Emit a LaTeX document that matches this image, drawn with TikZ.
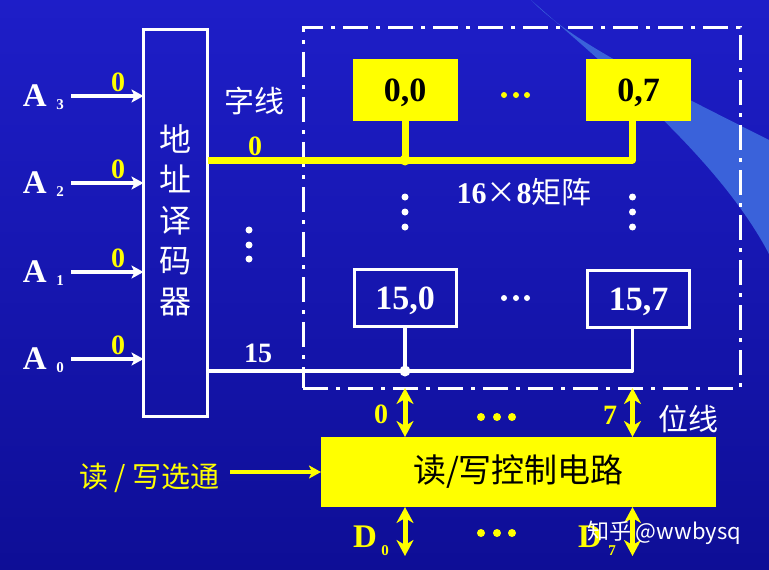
\documentclass[tikz,border=0pt]{standalone}
\usepackage{fontspec}
\setmainfont{Liberation Serif}
\newfontfamily\cjk{Noto Sans CJK SC}
\usetikzlibrary{arrows.meta,calc}
\definecolor{bgtop}{RGB}{30,30,200}
\definecolor{bgbot}{RGB}{14,14,150}
\definecolor{swoosh}{RGB}{58,98,218}
\definecolor{ylw}{RGB}{255,255,0}
\begin{document}
\begin{tikzpicture}[x=1pt,y=-1pt,
  every node/.style={inner sep=0pt,outer sep=0pt},
  bnum/.style={font=\bfseries\fontsize{28}{28}\selectfont},
  ylab/.style={bnum,text=ylw},
  wlab/.style={bnum,text=white},
  cjkw/.style={font=\cjk\fontsize{30}{30}\selectfont,text=white},
  alab/.style={font=\bfseries\fontsize{33}{33}\selectfont,text=white},
  asub/.style={font=\bfseries\fontsize{15}{15}\selectfont,text=white},
  dlab/.style={font=\bfseries\fontsize{33}{33}\selectfont,text=ylw},
  dsub/.style={font=\bfseries\fontsize{15}{15}\selectfont,text=ylw},
  cellY/.style={fill=ylw,minimum width=105pt,minimum height=62pt,text height=23pt,text depth=0pt,
     font=\bfseries\fontsize{34}{34}\selectfont,text=black},
  cellW/.style={draw=white,line width=3pt,minimum width=102pt,minimum height=57pt,text height=23pt,text depth=0pt,
     font=\bfseries\fontsize{34}{34}\selectfont,text=white},
  yline/.style={draw=ylw,line width=7pt},
  wline/.style={draw=white,line width=3.5pt},
  warrow/.style={draw=white,line width=4pt,-{Stealth[length=12pt,width=13pt,inset=3pt]}},
  yarrow/.style={draw=ylw,line width=3.5pt,-{Stealth[length=12pt,width=13pt,inset=3pt]}},
  darrow/.style={draw=ylw,line width=5pt,{Stealth[length=16pt,width=17pt,inset=5pt]}-{Stealth[length=16pt,width=17pt,inset=5pt]}},
  wdot/.style={fill=white},
  ydot/.style={fill=ylw}
]
% background
\shade[top color=bgtop,bottom color=bgbot] (0,0) rectangle (769,570);
\useasboundingbox (0,0) rectangle (769,570);
\fill[swoosh] (531,0) .. controls (570,40) and (640,75) .. (769,140)
   -- (769,254) .. controls (720,160) and (610,70) .. (531,0) -- cycle;

% matrix frame
\node[draw=white,line width=3pt,dash pattern=on 25pt off 8pt on 4pt off 8pt,
      minimum width=437pt,minimum height=361pt] (mat) at (521.5,207.5) {};

% decoder
\node[draw=white,line width=3pt,minimum width=64pt,minimum height=387pt] (dec) at (175.5,223) {};
\node[font=\cjk\fontsize{32}{40.5}\selectfont,text=white,align=center] (dectxt) at (175,220) {地\\址\\译\\码\\器};

% inputs
\foreach \i/\y in {3/96,2/183,1/272,0/359}{
  \node[alab,anchor=base west] (A\i) at (23,{\y+10}) {A};
  \node[asub,anchor=base] (As\i) at (60,{\y+13}) {\i};
  \coordinate (as\i) at (71,\y);
  \draw[warrow] (as\i) -- (dec.west |- as\i);
  \node[ylab,anchor=base] (z\i) at (118,{\y-5}) {0};
}

% cells
\node[cellY] (c00) at (405,90) {0,0};
\node[cellY] (c07) at (638.5,90) {0,7};
\node[cellW] (c150) at (405,298) {15,0};
\node[cellW] (c157) at (638.5,299) {15,7};
\coordinate (k7) at ([xshift=-6pt]c07.south);
\coordinate (k15) at ([xshift=-6pt]c157.south);

% word line 0
\draw[yline,line join=round] (dec.east |- 0,160) -- (k7 |- 0,160) -- (k7);
\draw[yline] (c00.south) -- (c00.south |- 0,160);
\fill[ydot] (c00.south |- 0,160) circle (5.5pt);
% word line 15
\draw[wline,line join=round] (dec.east |- 0,371) -- (k15 |- 0,371) -- (k15);
\draw[wline] (c150.south) -- (c150.south |- 0,371);
\fill[wdot] (c150.south |- 0,371) circle (5.5pt);

% labels near word lines
\node[cjkw] (zx) at (254,101) {字线};
\node[ylab,anchor=base] (w0lab) at (255,155) {0};
\node[wlab,anchor=base] (w15lab) at (258,362) {15};
\node[font=\fontsize{30}{30}\selectfont,text=white] (mtx) at (524,192)
   {\bfseries 16{\cjk\mdseries ×}8{\cjk\mdseries 矩阵}};

% dots
\foreach \yy in {197,212,227}{
  \fill[wdot] (405,\yy) circle (3.5pt);
  \fill[wdot] (632.5,\yy) circle (3.5pt);
}
\foreach \yy in {230,245,259}{ \fill[wdot] (249,\yy) circle (3.5pt); }
\foreach \xx in {504,516,527}{
  \fill[ydot] (\xx,95) circle (3pt);
  \fill[wdot] (\xx,298) circle (3pt);
}
\foreach \xx in {481,497,512}{
  \fill[ydot] (\xx,417) circle (4pt);
  \fill[ydot] (\xx,533) circle (4pt);
}

% control
\node[fill=ylw,minimum width=395pt,minimum height=70pt,font=\cjk\fontsize{33}{33}\selectfont,text=black]
   (ctrl) at (518.5,472) {读/写控制电路};
\draw[darrow] (c150.south |- mat.south) -- (c150.south |- ctrl.north);
\draw[darrow] (k15 |- mat.south) -- (k15 |- ctrl.north);
\draw[darrow] (c150.south |- ctrl.south) -- (c150.south |- 0,556);
\draw[darrow] (k15 |- ctrl.south) -- (k15 |- 0,556);

\node[ylab] (b0) at (381,414) {0};
\node[ylab] (b7) at (610,415) {7};
\node[cjkw] (wx) at (688,419) {位线};
\node[dlab,anchor=base] (D0) at (365,547) {D};
\node[dsub,anchor=base] (D0s) at (385,555) {0};
\node[dlab,anchor=base] (D7) at (590,547) {D};
\node[dsub,anchor=base] (D7s) at (612,555) {7};

% strobe
\node[font=\cjk\fontsize{29}{29}\selectfont,text=ylw] (rw) at (149.5,478) {读 / 写选通};
\coordinate (rwa) at (230,472);
\draw[yarrow] (rwa) -- (ctrl.west);

% watermark
\node[anchor=west,text=white,font=\cjk\fontsize{22}{22}\selectfont] (wm) at (587,533) {知乎 @wwbysq};
\end{tikzpicture}
\end{document}
